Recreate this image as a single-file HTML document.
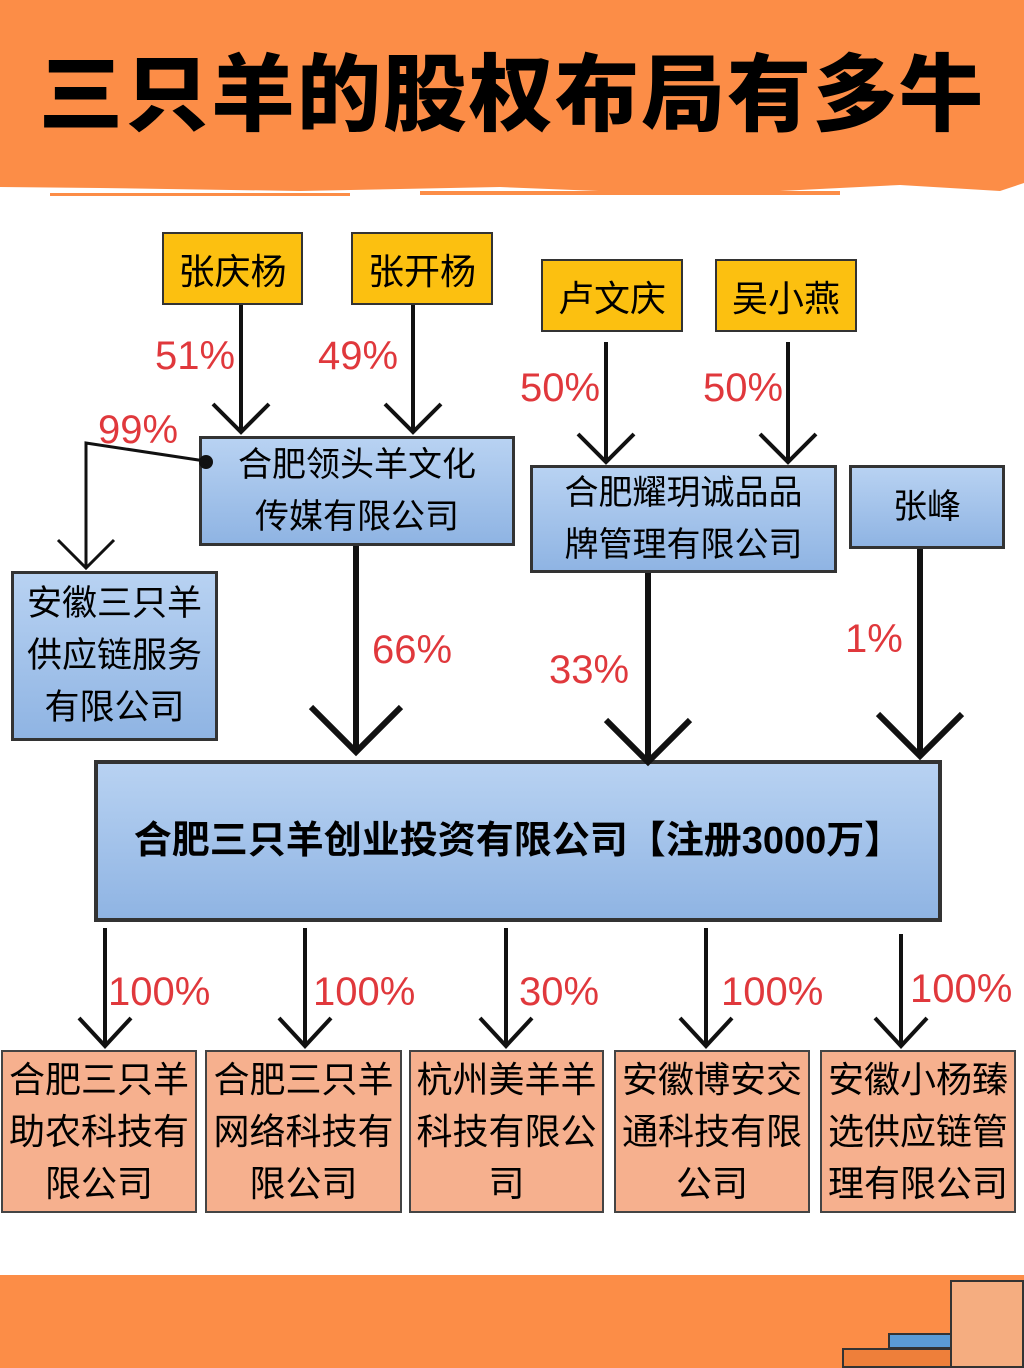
<!DOCTYPE html>
<html><head><meta charset="utf-8"><style>
body{margin:0;width:1024px;height:1368px;position:relative;overflow:hidden;background:#fff;font-family:"Liberation Sans","Noto Sans CJK SC",sans-serif}
.a{position:absolute;box-sizing:border-box}
.y{background:#fcc010;border:2px solid #333;font-size:36px;display:flex;align-items:center;justify-content:center}
.b{background:linear-gradient(#b8d2f2,#8fb4e3);border:3px solid #333;font-size:34px;display:flex;align-items:center;justify-content:center;text-align:center;line-height:52px}
.s{background:#f6b08e;border:2px solid #444;font-size:36px;display:flex;align-items:center;justify-content:center;text-align:center;line-height:52px;overflow:hidden;white-space:nowrap}
.r{position:absolute;color:#e0383c;font-size:40px;line-height:1}
</style></head><body>
<div class="a" style="left:0;top:0;width:1024px;height:182px;background:#fc8d47"></div>
<svg class="a" style="left:0;top:175px" width="1024" height="30"><path d="M0 0H1024V8L1000 16 900 10 700 20 500 12 300 16 100 13 0 12Z" fill="#fc8d47"/><rect x="50" y="18" width="300" height="3" fill="#fc8d47"/><rect x="420" y="16" width="420" height="4" fill="#fc8d47"/></svg>
<div class="a" style="left:0;top:40px;width:1024px;text-align:center;font-size:84px;font-weight:900;line-height:110px;letter-spacing:2px">三只羊的股权布局有多牛</div>
<div class="a" style="left:0;top:1275px;width:1024px;height:93px;background:#fc8d47"></div>
<div class="a" style="left:950px;top:1280px;width:74px;height:88px;background:#f5ad80;border:2px solid #333"></div>
<div class="a" style="left:888px;top:1333px;width:64px;height:16px;background:#5b9bd5;border:2px solid #333"></div>
<div class="a" style="left:842px;top:1348px;width:110px;height:20px;background:#ee7f3a;border:2px solid #333"></div>

<div class="a y" style="left:162px;top:232px;width:141px;height:73px">张庆杨</div>
<div class="a y" style="left:351px;top:232px;width:142px;height:73px">张开杨</div>
<div class="a y" style="left:541px;top:259px;width:142px;height:73px">卢文庆</div>
<div class="a y" style="left:715px;top:259px;width:142px;height:73px">吴小燕</div>
<div class="a b" style="left:199px;top:436px;width:316px;height:110px">合肥领头羊文化<br>传媒有限公司</div>
<div class="a b" style="left:530px;top:465px;width:307px;height:108px">合肥耀玥诚品品<br>牌管理有限公司</div>
<div class="a b" style="left:849px;top:465px;width:156px;height:84px">张峰</div>
<div class="a b" style="left:11px;top:571px;width:207px;height:170px;font-size:35px">安徽三只羊<br>供应链服务<br>有限公司</div>
<div class="a b" style="left:94px;top:760px;width:848px;height:162px;font-size:38px;font-weight:bold;border-width:4px">合肥三只羊创业投资有限公司【注册3000万】</div>
<div class="a s" style="left:1px;top:1050px;width:196px;height:163px">合肥三只羊<br>助农科技有<br>限公司</div>
<div class="a s" style="left:205px;top:1050px;width:197px;height:163px">合肥三只羊<br>网络科技有<br>限公司</div>
<div class="a s" style="left:409px;top:1050px;width:195px;height:163px">杭州美羊羊<br>科技有限公<br>司</div>
<div class="a s" style="left:614px;top:1050px;width:196px;height:163px">安徽博安交<br>通科技有限<br>公司</div>
<div class="a s" style="left:820px;top:1050px;width:196px;height:163px">安徽小杨臻<br>选供应链管<br>理有限公司</div>

<svg class="a" style="left:0;top:0" width="1024" height="1368" fill="none" stroke="#111" stroke-width="4">
<path d="M241 305V430M213 404L241 432 269 404"/>
<path d="M413 305V430M385 404L413 432 441 404"/>
<path d="M606 342V460M578 434L606 462 634 434"/>
<path d="M788 342V460M760 434L788 462 816 434"/>
<path d="M205 461L86 443V566M58 540L86 568 114 540" stroke-width="3"/>
<circle cx="206" cy="462" r="5" fill="#111"/>
<path d="M356 546V750M311 707L356 752 401 707" stroke-width="6"/>
<path d="M648 573V760M606 720L648 762 690 720" stroke-width="6"/>
<path d="M920 549V756M878 714L920 756 962 714" stroke-width="6"/>
<path d="M105 928V1044M79 1018L105 1046 131 1018"/>
<path d="M305 928V1044M279 1018L305 1046 331 1018"/>
<path d="M506 928V1044M480 1018L506 1046 532 1018"/>
<path d="M706 928V1044M680 1018L706 1046 732 1018"/>
<path d="M901 934V1044M875 1018L901 1046 927 1018"/>
</svg>
<div class="r" style="left:155px;top:336px">51%</div>
<div class="r" style="left:318px;top:336px">49%</div>
<div class="r" style="left:98px;top:410px">99%</div>
<div class="r" style="left:520px;top:368px">50%</div>
<div class="r" style="left:703px;top:368px">50%</div>
<div class="r" style="left:372px;top:630px">66%</div>
<div class="r" style="left:549px;top:650px">33%</div>
<div class="r" style="left:845px;top:619px">1%</div>
<div class="r" style="left:108px;top:972px">100%</div>
<div class="r" style="left:313px;top:972px">100%</div>
<div class="r" style="left:519px;top:972px">30%</div>
<div class="r" style="left:721px;top:972px">100%</div>
<div class="r" style="left:910px;top:969px">100%</div>
</body></html>
